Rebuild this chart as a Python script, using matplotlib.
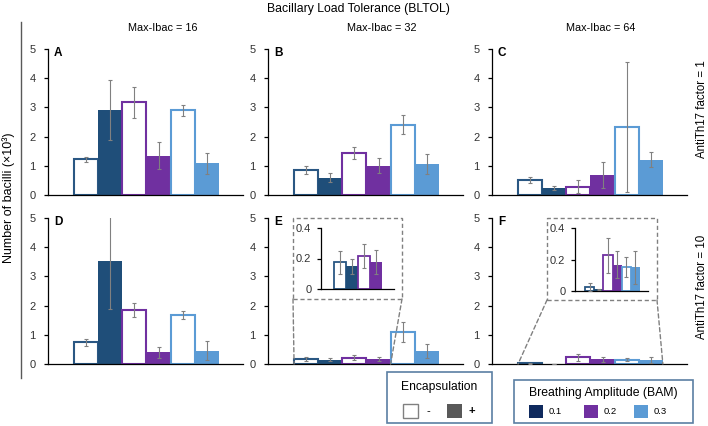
import matplotlib.pyplot as plt
from matplotlib.patches import Rectangle, ConnectionPatch
from matplotlib.ticker import FuncFormatter

plt.rcParams['font.family'] = ['Liberation Sans', 'DejaVu Sans']

# bar order: (BAM 0.1, -), (0.1, +), (0.2, -), (0.2, +), (0.3, -), (0.3, +)
panels = ['A', 'B', 'C', 'D', 'E', 'F']
max_ibac = ['Max-Ibac = 16', 'Max-Ibac = 32', 'Max-Ibac = 64']
antith17 = ['AntiTh17 factor = 1', 'AntiTh17 factor = 10']
bam_labels = ['0.1', '0.2', '0.3']

vals_A = [1.22, 2.92, 3.17, 1.35, 2.90, 1.08]
errs_A = [0.08, 1.02, 0.53, 0.47, 0.19, 0.37]
vals_B = [0.86, 0.59, 1.44, 1.01, 2.41, 1.07]
errs_B = [0.13, 0.16, 0.21, 0.27, 0.33, 0.35]
vals_C = [0.52, 0.24, 0.29, 0.69, 2.33, 1.21]
errs_C = [0.10, 0.08, 0.21, 0.45, 2.22, 0.26]
vals_D = [0.74, 3.52, 1.85, 0.40, 1.67, 0.45]
errs_D = [0.12, 1.63, 0.23, 0.19, 0.13, 0.33]
vals_E = [0.176, 0.148, 0.217, 0.176, 1.10, 0.44]
errs_E = [0.075, 0.05, 0.078, 0.08, 0.33, 0.23]
vals_F = [0.025, 0.01, 0.227, 0.167, 0.152, 0.15]
errs_F = [0.025, 0.005, 0.11, 0.085, 0.065, 0.105]

fill_cols = ['#1f4e79', '#7030a0', '#5b9bd5']
edge_cols = ['#2a5783', '#7030a0', '#5b9bd5']
legend_cols = ['#0f2a5e', '#7030a0', '#5b9bd5']

W, H = 708, 426
fig = plt.figure(figsize=(W / 100, H / 100), dpi=100)


def fx(x):
    return x / W


def fy(y):
    return 1 - y / H


def add_ax(left, top, right, bottom):
    return fig.add_axes([fx(left), fy(bottom), fx(right - left), (bottom - top) / H])


def draw_bars(ax, v, e, n, lw=1.5, cap=1.5):
    for i in range(n):
        c = i // 2
        if i % 2 == 0:
            ax.bar(i, v[i], width=1, color='white', edgecolor=edge_cols[c],
                   linewidth=lw, zorder=2)
        else:
            ax.bar(i, v[i], width=1, color=fill_cols[c], linewidth=0, zorder=2)
        ax.errorbar(i, v[i], yerr=e[i], color='#808080', elinewidth=0.8,
                    capsize=cap, capthick=0.8, zorder=3)


def style(ax, ymax, ticks, fs=8):
    ax.set_ylim(0, ymax)
    ax.set_yticks(ticks)
    ax.set_xticks([])
    for s in ['top', 'right']:
        ax.spines[s].set_visible(False)
    ax.spines['left'].set_linewidth(0.9)
    ax.spines['bottom'].set_linewidth(0.9)
    ax.tick_params(axis='y', length=3, width=0.9, labelsize=fs,
                   labelcolor='#333333', pad=6)
    ax.patch.set_alpha(0)


data = [(vals_A, errs_A), (vals_B, errs_B), (vals_C, errs_C),
        (vals_D, errs_D), (vals_E, errs_E), (vals_F, errs_F)]
col_left = [48, 268, 492]
row_top = [49, 218]
row_bot = [195, 364]

axes = []
for k, (v, e) in enumerate(data):
    r, c = divmod(k, 3)
    ax = add_ax(col_left[c], row_top[r], col_left[c] + 195, row_bot[r])
    draw_bars(ax, v, e, 6)
    ax.set_xlim(-1.58, 6.5)
    style(ax, 5, [0, 1, 2, 3, 4, 5])
    ax.text(0.03, 0.975, panels[k], transform=ax.transAxes, fontsize=8.5,
            fontweight='bold', va='center', ha='left')
    axes.append(ax)

# insets for E and F
insets = [
    (axes[4], vals_E, errs_E, 4, (293, 218, 402, 299), (321, 228, 394, 289), (-1.58, 4.5)),
    (axes[5], vals_F, errs_F, 6, (547, 218, 657, 300), (575, 228, 648, 291), (-1.6, 6.37)),
]
for host, v, e, n, box, ibox, xl in insets:
    iax = add_ax(*ibox)
    draw_bars(iax, v, e, n, lw=1.3, cap=1.5)
    iax.set_xlim(*xl)
    style(iax, 0.4, [0, 0.2, 0.4], fs=8)
    iax.yaxis.set_major_formatter(FuncFormatter(lambda y, p: '0' if y == 0 else f'{y:.1f}'))
    iax.tick_params(axis='y', pad=4)
    l, t, rr, b = box
    fig.patches.append(Rectangle((fx(l), fy(b)), fx(rr - l), (b - t) / H,
                                 transform=fig.transFigure, fill=False,
                                 edgecolor='#808080', linestyle=(0, (3, 2)),
                                 linewidth=1))
    for xb, xd in [(l, -0.5), (rr, n - 0.5)]:
        con = ConnectionPatch(xyA=(fx(xb), fy(b)), coordsA=fig.transFigure,
                              xyB=(xd, 0), coordsB=host.transData,
                              color='#808080', linestyle=(0, (3, 2)), linewidth=1)
        fig.add_artist(con)

# titles
fig.text(fx(358), fy(9), 'Bacillary Load Tolerance (BLTOL)', ha='center',
         va='center', fontsize=8.8)
for c, t in enumerate(max_ibac):
    fig.text(fx(163 + 219 * c), fy(28), t, ha='center', va='center', fontsize=7.8)
for r, t in enumerate(antith17):
    fig.text(fx(702), fy([109, 287][r]), t, ha='center', va='center',
             fontsize=8.3, rotation=90)
fig.text(fx(9), fy(198), 'Number of bacilli (×10³)', ha='center', va='center',
         fontsize=9, rotation=90)
fig.add_artist(plt.Line2D([fx(21), fx(21)], [fy(22), fy(378)],
                          transform=fig.transFigure, color='#595959', lw=1))

# legends
leg_edge = '#5b7fa3'
fig.patches.append(Rectangle((fx(387), fy(423)), fx(105), 51 / H,
                             transform=fig.transFigure, fill=False,
                             edgecolor=leg_edge, linewidth=1.2))
fig.text(fx(439), fy(387), 'Encapsulation', ha='center', va='center', fontsize=8.7)
fig.patches.append(Rectangle((fx(403), fy(418)), fx(15), 14 / H,
                             transform=fig.transFigure, facecolor='white',
                             edgecolor='#808080', linewidth=1))
fig.text(fx(428), fy(411), '-', ha='center', va='center', fontsize=8)
fig.patches.append(Rectangle((fx(447), fy(418)), fx(15), 14 / H,
                             transform=fig.transFigure, facecolor='#595959',
                             edgecolor='none'))
fig.text(fx(472), fy(411), '+', ha='center', va='center', fontsize=8,
         fontweight='bold')

fig.patches.append(Rectangle((fx(514), fy(423)), fx(179), 43 / H,
                             transform=fig.transFigure, fill=False,
                             edgecolor=leg_edge, linewidth=1.2))
fig.text(fx(603), fy(393), 'Breathing Amplitude (BAM)', ha='center',
         va='center', fontsize=8.8)
for i, lab in enumerate(bam_labels):
    x0 = [529, 584, 634][i]
    fig.patches.append(Rectangle((fx(x0), fy(418)), fx(14), 13 / H,
                                 transform=fig.transFigure,
                                 facecolor=legend_cols[i], edgecolor='none'))
    fig.text(fx(x0 + 20), fy(411), lab, ha='left', va='center', fontsize=6.8)

fig.savefig('out.png', dpi=100)
